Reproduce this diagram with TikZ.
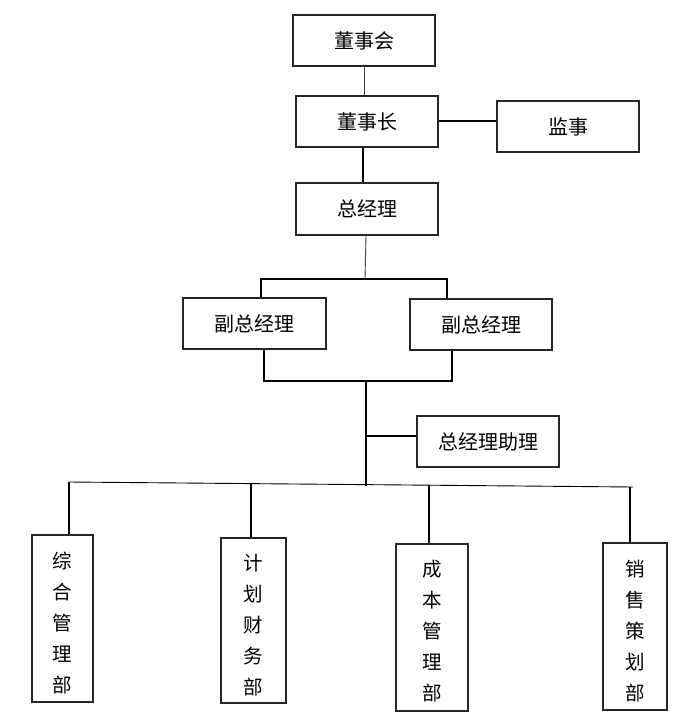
\documentclass[tikz,border=0pt]{standalone}
\usepackage{fontspec}
\setmainfont{Noto Sans CJK SC}
\begin{document}
\begin{tikzpicture}[x=1pt,y=-1pt,
  box/.style={draw=black!85,line width=1.2pt,inner sep=0pt,font=\fontsize{20}{24}\selectfont,align=center},
  vbox/.style={box},
  vtext/.style={font=\fontsize{19.5}{31}\selectfont,align=center,inner sep=0pt},
  thinln/.style={line width=0.9pt,draw=black!75},
  thickln/.style={line width=2pt,draw=black}]
\useasboundingbox (0,0) rectangle (691,722);
\fill[white] (0,0) rectangle (691,722);
% top chain
\node[box,minimum width=142pt,minimum height=51pt] (dsh) at (364,40.5) {董事会};
\node[box,minimum width=142pt,minimum height=51pt] (dsz) at (367,121.5) {董事长};
\node[box,minimum width=142pt,minimum height=51pt] (js) at (568,126.5) {监事};
\node[box,minimum width=142pt,minimum height=52pt] (zjl) at (367,209) {总经理};
\node[box,minimum width=143pt,minimum height=51pt] (fz1) at (254.5,323.5) {副总经理};
\node[box,minimum width=142pt,minimum height=51pt] (fz2) at (481,324.5) {副总经理};
\node[box,minimum width=142pt,minimum height=51pt] (zl) at (488,441.5) {总经理助理};
% departments (box + vertical text)
\node[vbox,minimum width=61pt,minimum height=167pt] (d1) at (62.5,618.5) {};
\node[vtext] (d1t) at (62.5,623) {综\\合\\管\\理\\部};
\node[vbox,minimum width=65pt,minimum height=165pt] (d2) at (253.5,620.5) {};
\node[vtext] (d2t) at (253.5,625) {计\\划\\财\\务\\部};
\node[vbox,minimum width=72pt,minimum height=167pt] (d3) at (432,627.5) {};
\node[vtext] (d3t) at (432,631.5) {成\\本\\管\\理\\部};
\node[vbox,minimum width=64pt,minimum height=167pt] (d4) at (635,626.5) {};
\node[vtext] (d4t) at (635,631) {销\\售\\策\\划\\部};
% junction coordinates
\coordinate (j1) at (365,279);
\coordinate (b1l) at (261,279);
\coordinate (b1r) at (447,279);
\coordinate (b2l) at (264,381);
\coordinate (b2r) at (452,381);
\coordinate (j2) at (366,381);
\coordinate (j3) at (366,436);
\coordinate (j4) at (366,486);
\coordinate (busl) at (69,482);
\coordinate (busr) at (633,487);
\coordinate (p2) at (251,483.6);
\coordinate (p3) at (429,485.2);
\coordinate (p4) at (630,487);
% connectors
\draw[thinln] (dsh.south) -- (dsh.south |- dsz.north);
\draw[thickln] (dsz.east) -- (dsz.east -| js.west);
\draw[thickln] ([xshift=-4pt]dsz.south) -- ([xshift=-4pt]dsz.south |- zjl.north);
\draw[thinln] ([xshift=-1pt]zjl.south) -- (j1);
\draw[thickln] (b1l |- fz1.north) -- (b1l) -- (b1r) -- (b1r |- fz2.north);
\draw[thickln] (b2l |- fz1.south) -- (b2l) -- (b2r) -- (b2r |- fz2.south);
\draw[thickln] (j2) -- (j4);
\draw[thickln] (j3) -- (j3 -| zl.west);
\draw[thinln,draw=black] (busl) -- (busr);
\draw[thickln] (busl) -- (busl |- d1.north);
\draw[thickln] (p2) -- (p2 |- d2.north);
\draw[thickln] (p3) -- (p3 |- d3.north);
\draw[thickln] (p4) -- (p4 |- d4.north);
\end{tikzpicture}
\end{document}
